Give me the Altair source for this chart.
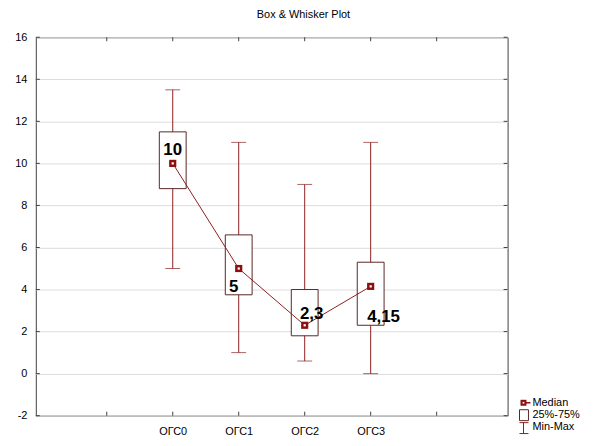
import altair as alt
import pandas as pd

# ---- data ----
groups = ["ОГС0", "ОГС1", "ОГС2", "ОГС3"]
positions = [1, 2, 3, 4]
medians = [10.0, 5.0, 2.3, 4.15]
q1 = [8.8, 3.75, 1.8, 2.3]
q3 = [11.5, 6.6, 4.0, 5.3]
mins = [5.0, 1.0, 0.6, 0.0]
maxs = [13.5, 11.0, 9.0, 11.0]
labels = ["10", "5", "2,3", "4,15"]
y_ticks = [-2, 0, 2, 4, 6, 8, 10, 12, 14, 16]
x_ticks = [0, 1, 2, 3, 4, 5]
legend_names = ["Median", "25%-75%", "Min-Max"]

# label offsets (pixels) relative to median marker
label_dx = [0, -5, 7, 13]
label_dy = [-13, 19, -11, 31]

df = pd.DataFrame(dict(pos=positions, group=groups, med=medians, q1=q1, q3=q3,
                       lo=mins, hi=maxs, label=labels))
yt = pd.DataFrame(dict(v=y_ticks))
xt = pd.DataFrame(dict(v=x_ticks))
one = pd.DataFrame(dict(a=[0]))

W, H = 475, 381
FONT = "Liberation Sans"
WHISK = "#8b2020"
BOXC = "#5a2626"
MED = "#8b1010"

xscale = alt.Scale(domain=[-1, 6], nice=False, zero=False)
yscale = alt.Scale(domain=[-2, 16], nice=False, zero=False)

lab_arr = "[''," + ",".join("'%s'" % g for g in groups) + ",'']"
xaxis = alt.Axis(values=x_ticks, labelExpr=lab_arr + "[datum.value]", grid=False,
                 ticks=False, domain=False, labelPadding=10, labelFontSize=11,
                 labelFont=FONT, labelColor="black", title=None)
yaxis = alt.Axis(values=y_ticks, labelExpr="datum.value + ''", grid=True,
                 gridColor="#dcdcdc", ticks=False,
                 domain=False, labelPadding=9, labelFontSize=11, labelFont=FONT,
                 labelColor="black", title=None)

def X(f):
    return alt.X(f, type="quantitative", scale=xscale, axis=xaxis)

def Y(f):
    return alt.Y(f, type="quantitative", scale=yscale, axis=yaxis)

layers = []

# inward ticks on all four sides
layers.append(alt.Chart(yt).mark_rule(color="#404040").encode(
    y=Y("v"), x=alt.value(0), x2=alt.value(4)))
layers.append(alt.Chart(yt).mark_rule(color="#404040").encode(
    y=Y("v"), x=alt.value(W - 4), x2=alt.value(W)))
layers.append(alt.Chart(xt).mark_rule(color="#404040").encode(
    x=X("v"), y=alt.value(H), y2=alt.value(H - 4)))
layers.append(alt.Chart(xt).mark_rule(color="#404040").encode(
    x=X("v"), y=alt.value(0), y2=alt.value(4)))

base = alt.Chart(df)
# whiskers
layers.append(base.mark_rule(color=WHISK, strokeWidth=1).encode(
    x=X("pos"), y=Y("lo"), y2="hi"))
layers.append(base.mark_tick(color=WHISK, orient="horizontal", size=15, thickness=1).encode(
    x=X("pos"), y=Y("lo")))
layers.append(base.mark_tick(color=WHISK, orient="horizontal", size=15, thickness=1).encode(
    x=X("pos"), y=Y("hi")))
# boxes
layers.append(base.mark_bar(size=27, fill="white", stroke=BOXC, strokeWidth=1).encode(
    x=X("pos"), y=Y("q1"), y2="q3"))
# median line
layers.append(base.mark_line(color=WHISK, strokeWidth=1).encode(
    x=X("pos"), y=Y("med")))
# median markers
layers.append(base.mark_square(size=52, color=MED, opacity=1).encode(
    x=X("pos"), y=Y("med")))
layers.append(base.mark_square(size=5, color="white", opacity=1).encode(
    x=X("pos"), y=Y("med")))
# value labels
for i in range(len(labels)):
    layers.append(base.transform_filter(alt.datum.pos == positions[i]).mark_text(
        font=FONT, fontSize=17, fontWeight="bold", color="black",
        dx=label_dx[i], dy=label_dy[i], baseline="middle", align="center").encode(
        x=X("pos"), y=Y("med"), text="label:N"))

# legend (drawn to the right of the plot)
lx = 491
ly = 368
layers.append(alt.Chart(one).mark_square(size=36, color=MED, opacity=1).encode(
    x=alt.value(lx), y=alt.value(ly)))
layers.append(alt.Chart(one).mark_rule(color=MED, strokeWidth=1.5).encode(
    x=alt.value(lx), x2=alt.value(lx + 7), y=alt.value(ly)))
layers.append(alt.Chart(one).mark_square(size=3, color="white", opacity=1).encode(
    x=alt.value(lx), y=alt.value(ly)))
layers.append(alt.Chart(one).mark_rect(fill="white", stroke=BOXC, strokeWidth=1).encode(
    x=alt.value(lx - 4), x2=alt.value(lx + 5), y=alt.value(ly + 7), y2=alt.value(ly + 18)))
layers.append(alt.Chart(one).mark_rule(color=WHISK).encode(
    x=alt.value(lx), y=alt.value(ly + 20), y2=alt.value(ly + 31)))
layers.append(alt.Chart(one).mark_rule(color=WHISK).encode(
    x=alt.value(lx - 4), x2=alt.value(lx + 5), y=alt.value(ly + 20)))
layers.append(alt.Chart(one).mark_rule(color=WHISK).encode(
    x=alt.value(lx - 4), x2=alt.value(lx + 5), y=alt.value(ly + 31)))
for k, name in enumerate(legend_names):
    layers.append(alt.Chart(one).mark_text(
        font=FONT, fontSize=11, color="black", align="left", baseline="middle").encode(
        x=alt.value(lx + 9), y=alt.value(ly + 12 * k), text=alt.value(name)))

chart = alt.layer(*layers).properties(
    width=W, height=H,
    autosize=alt.AutoSizeParams(type="none"),
    padding={"left": 28, "top": 28, "right": 88, "bottom": 19},
    title=alt.TitleParams("Box & Whisker Plot", font=FONT, fontSize=11, fontWeight="normal",
                          color="black", anchor="middle", frame="group", dx=32, offset=11),
).configure_view(stroke="#404040", strokeWidth=1)

chart.save("out.html", embed_options={"renderer": "svg", "actions": False})
